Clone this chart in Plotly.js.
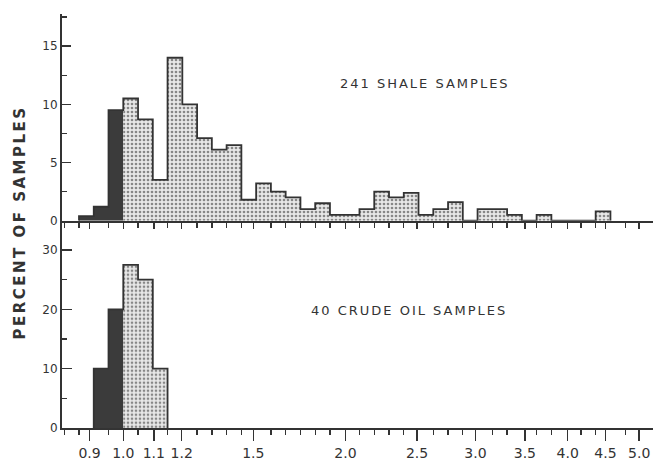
<!DOCTYPE html>
<html>
<head>
<meta charset="utf-8">
<script src="https://cdn.plot.ly/plotly-3.0.1.min.js"></script>
<style>
  html, body { margin: 0; padding: 0; background: #ffffff; }
  #chart { width: 660px; height: 461px; }
  .annotation[data-index="0"] text { letter-spacing: 2.5px; }
  .annotation[data-index="1"] text, .annotation[data-index="2"] text { letter-spacing: 2px; }
</style>
</head>
<body>
<div id="chart"></div>
<script>
// ---- data ----
// bins are equal-width in log10(ratio); bin k spans 10^(k*binLogStep) .. 10^((k+1)*binLogStep)
var binLogStep = 0.02;

// 241 shale samples: percent of samples per bin, starting at bin index shaleFirstBin
var shaleFirstBin = -3;
var shaleValues = [0.4, 1.2, 9.5, 10.5, 8.7, 3.5, 14.0, 10.0, 7.1, 6.1, 6.5, 1.8, 3.2, 2.5,
                   2.0, 1.0, 1.5, 0.5, 0.5, 1.0, 2.5, 2.0, 2.4, 0.5, 1.0, 1.6, 0, 1.0, 1.0,
                   0.5, 0, 0.5, 0, 0, 0, 0.8];

// 40 crude oil samples
var oilFirstBin = -2;
var oilValues = [10, 20, 27.5, 25, 10];

var xTickVals = [0.9, 1.0, 1.1, 1.2, 1.5, 2.0, 2.5, 3.0, 3.5, 4.0, 4.5, 5.0];
var xTickText = ["0.9", "1.0", "1.1", "1.2", "1.5", "2.0", "2.5", "3.0", "3.5", "4.0", "4.5", "5.0"];
var shaleTicks = [0, 5, 10, 15];
var oilTicks = [0, 10, 20, 30];

var shaleLabel = "241 SHALE SAMPLES";
var oilLabel = "40 CRUDE OIL SAMPLES";
var yTitle = "PERCENT OF SAMPLES";

// ---- styling ----
var ink = "#333333";
var darkFill = "#3b3b3b";
var font = "DejaVu Sans";

function edgeOf(k) { return Math.pow(10, k * binLogStep); }

function stepXY(firstBin, values) {
  var n = values.length;
  var x = [edgeOf(firstBin)], y = [0];
  for (var i = 0; i < n; i++) { x.push(edgeOf(firstBin + i)); y.push(values[i]); }
  x.push(edgeOf(firstBin + n)); y.push(0);
  return {x: x, y: y};
}

function panelTraces(firstBin, values, xa, ya) {
  var traces = [];
  // split at ratio 1.0 (bin index 0)
  var nDark = Math.max(0, Math.min(values.length, -firstBin));
  if (nDark > 0) {
    var d = stepXY(firstBin, values.slice(0, nDark));
    traces.push({type: "scatter", mode: "lines", x: d.x, y: d.y, xaxis: xa, yaxis: ya,
      line: {shape: "hv", width: 0, color: darkFill}, fill: "tozeroy", fillcolor: darkFill,
      hoverinfo: "skip", showlegend: false});
  }
  if (nDark < values.length) {
    var l = stepXY(firstBin + nDark, values.slice(nDark));
    traces.push({type: "scatter", mode: "lines", x: l.x, y: l.y, xaxis: xa, yaxis: ya,
      line: {shape: "hv", width: 0, color: "#e2e2e2"}, fill: "tozeroy", fillcolor: "#e2e2e2",
      fillpattern: {shape: ".", bgcolor: "#e8e8e8", fgcolor: "#878787", size: 4, solidity: 0.35},
      hoverinfo: "skip", showlegend: false});
  }
  var o = stepXY(firstBin, values);
  traces.push({type: "scatter", mode: "lines", x: o.x, y: o.y, xaxis: xa, yaxis: ya,
    line: {shape: "hv", width: 1.8, color: ink}, hoverinfo: "skip", showlegend: false});
  return traces;
}

// minor ticks at every bin edge across the axis span, skipping those touching a labelled tick
var minorVals = [];
for (var k = -9; k <= 36; k++) {
  var v = edgeOf(k);
  var near = xTickVals.some(function (t) { return Math.abs(Math.log10(t) - Math.log10(v)) < 0.007; });
  if (!near) minorVals.push(v);
}

var xRange = [Math.log10(0.826), Math.log10(5.22)];

var data = panelTraces(shaleFirstBin, shaleValues, "x", "y")
  .concat(panelTraces(oilFirstBin, oilValues, "x2", "y2"));

var baseX = {
  type: "log", range: xRange, showgrid: false, zeroline: false,
  showline: true, linecolor: ink, linewidth: 2, tickcolor: ink, tickwidth: 1.5,
  tickmode: "array", tickvals: xTickVals, ticks: "outside",
  minor: {tickmode: "array", tickvals: minorVals, ticks: "outside", ticklen: 5, tickcolor: ink, tickwidth: 1.3}
};

var layout = {
  width: 660, height: 461,
  margin: {l: 62, r: 7, t: 14, b: 33},
  paper_bgcolor: "#ffffff", plot_bgcolor: "#ffffff",
  font: {family: font, color: ink},
  xaxis: Object.assign({}, baseX, {anchor: "y", showticklabels: false, ticklen: 6}),
  xaxis2: Object.assign({}, baseX, {anchor: "y2", ticklen: 11, ticktext: xTickText,
    tickfont: {family: font, size: 14, color: ink}, ticklabelstandoff: 0}),
  yaxis: {domain: [0.5007, 1], range: [0, 17.76], anchor: "x", showgrid: false, zeroline: false,
    showline: true, linecolor: ink, linewidth: 2, ticks: "inside", ticklen: 9, tickwidth: 1.5, tickcolor: ink,
    tickmode: "array", tickvals: shaleTicks, tickfont: {family: font, size: 12, color: ink},
    minor: {dtick: 2.5, ticks: "inside", ticklen: 5, tickcolor: ink, tickwidth: 1.3}},
  yaxis2: {domain: [0, 0.5007], range: [0, 34.93], anchor: "x2", showgrid: false, zeroline: false,
    showline: true, linecolor: ink, linewidth: 2, ticks: "inside", ticklen: 10, tickwidth: 1.5, tickcolor: ink,
    tickmode: "array", tickvals: oilTicks, tickfont: {family: font, size: 12, color: ink},
    minor: {dtick: 5, ticks: "inside", ticklen: 5, tickcolor: ink, tickwidth: 1.3}},
  annotations: [
    {text: yTitle, xref: "paper", yref: "paper", x: -0.071, y: 0.495, xanchor: "center", yanchor: "middle",
     textangle: -90, showarrow: false, font: {family: font, size: 15, color: ink, weight: "bold"}},
    {text: shaleLabel, xref: "paper", yref: "paper", x: 0.614, y: 0.833, xanchor: "center", yanchor: "middle",
     showarrow: false, font: {family: font, size: 13, color: ink}},
    {text: oilLabel, xref: "paper", yref: "paper", x: 0.587, y: 0.283, xanchor: "center", yanchor: "middle",
     showarrow: false, font: {family: font, size: 13, color: ink}}
  ]
};

Plotly.newPlot("chart", data, layout, {displayModeBar: false, staticPlot: true});
</script>
</body>
</html>
